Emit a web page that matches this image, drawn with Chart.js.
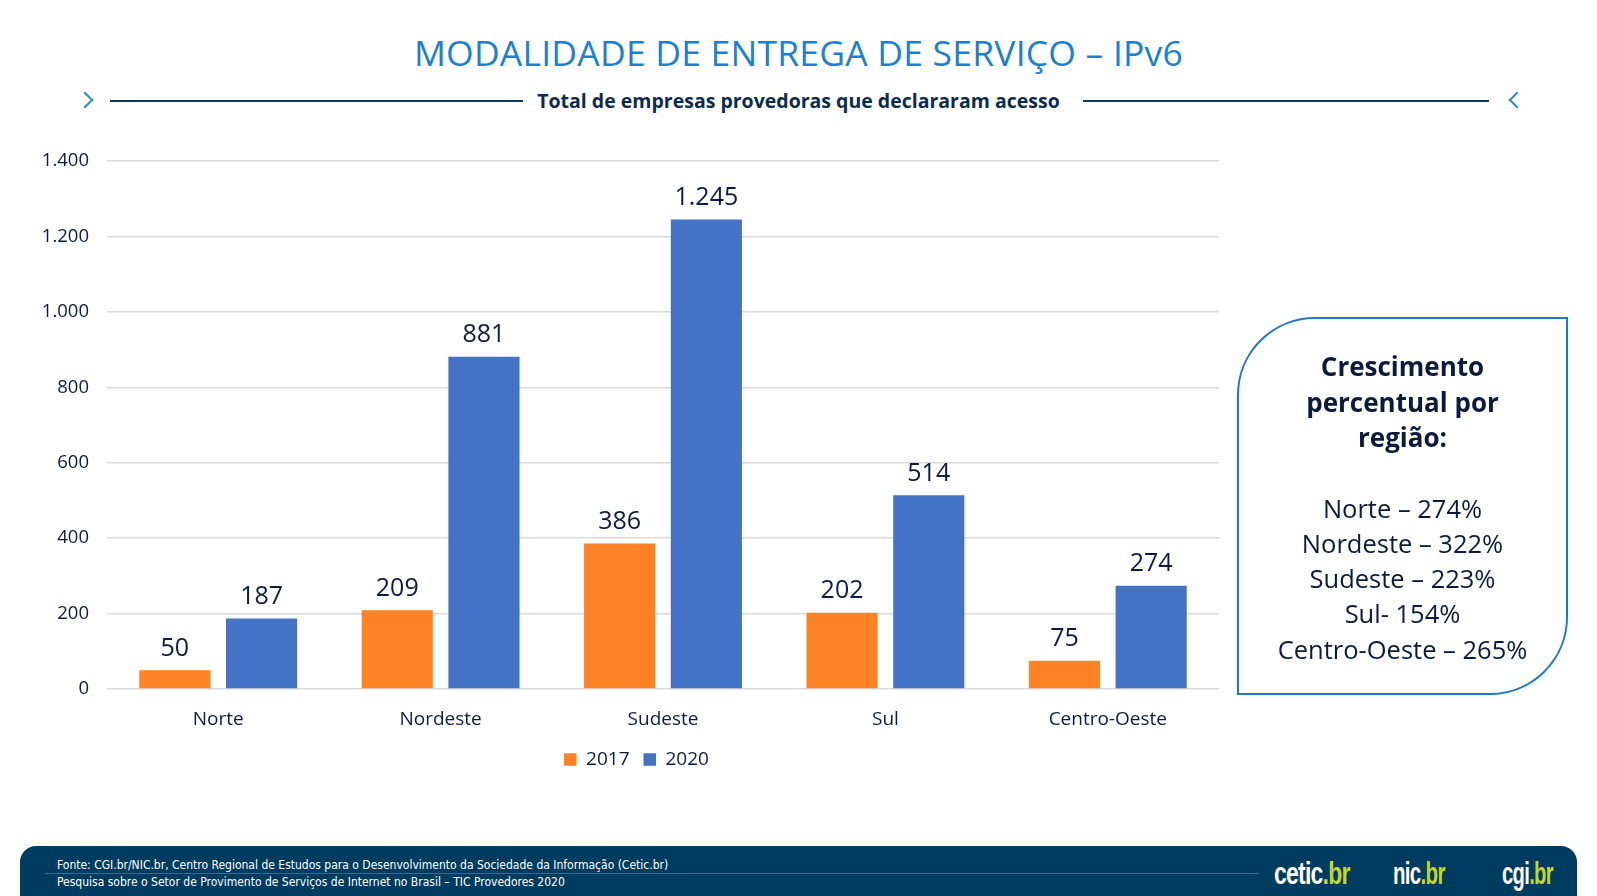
<!DOCTYPE html>
<html>
<head>
<meta charset="utf-8">
<script src="https://cdn.jsdelivr.net/npm/chart.js@4"></script>
<style>
  body { margin: 0; width: 1597px; height: 896px; background: #fff; position: relative; overflow: hidden; font-family: "Open Sans", "Noto Sans", sans-serif; }
  #title { position: absolute; left: 0; width: 1597px; top: 28px; text-align: center; font-size: 35.5px; letter-spacing: 0.2px; color: #1b7fd3; }
  #sub { position: absolute; left: 0; width: 1597px; top: 87px; text-align: center; font-size: 19.5px; font-weight: bold; color: #0c2c4e; }
  .hl { position: absolute; top: 100px; height: 1.5px; background: #0c3a5e; }
  .chev { position: absolute; top: 94px; width: 10px; height: 10px; border-top: 2.5px solid #2b8fc4; border-right: 2.5px solid #2b8fc4; }
  #wrap { position: absolute; left: 20px; top: 132px; width: 1220px; height: 647px; }
  #box { position: absolute; left: 1237px; top: 317px; width: 327px; height: 374px; border: 2px solid #1f78c6; border-radius: 78px 0 78px 0; color: #0c1a3c; text-align: center; }
  #box .h { margin-top: 30px; font-weight: bold; font-size: 26px; line-height: 35.5px; }
  #box .l { margin-top: 35px; font-size: 25.5px; line-height: 35.3px; }
  #foot { position: absolute; left: 20px; top: 846px; width: 1557px; height: 60px; background: #003c60; border-radius: 16px 16px 0 0; }
  .ft { position: absolute; left: 37px; font-size: 12px; color: #fff; font-family: "Liberation Sans Narrow", "DejaVu Sans Condensed", sans-serif; }
  #sep { position: absolute; left: 25px; top: 27px; width: 1214px; height: 1px; background: #3d6a8a; }
  .logo { position: absolute; top: 10px; font-family: "Liberation Sans Narrow", sans-serif; font-weight: bold; font-size: 31px; color: #fff; letter-spacing: -1px; transform-origin: left center; }
  .logo span { color: #c4d62a; }
</style>
</head>
<body>
<div id="title">MODALIDADE DE ENTREGA DE SERVIÇO – IPv6</div>
<div class="chev" style="left:79px;transform:rotate(45deg)"></div>
<div class="hl" style="left:110px;width:413px"></div>
<div id="sub">Total de empresas provedoras que declararam acesso</div>
<div class="hl" style="left:1083px;width:406px"></div>
<div class="chev" style="left:1511px;transform:rotate(-135deg)"></div>

<div id="wrap"><canvas id="chartIPv6"></canvas></div>

<div id="box">
  <div class="h">Crescimento<br>percentual por<br>região:</div>
  <div class="l">Norte – 274%<br>Nordeste – 322%<br>Sudeste – 223%<br>Sul- 154%<br>Centro-Oeste – 265%</div>
</div>

<div id="foot">
  <div class="ft" style="top:12px">Fonte: CGI.br/NIC.br, Centro Regional de Estudos para o Desenvolvimento da Sociedade da Informação (Cetic.br)</div>
  <div id="sep"></div>
  <div class="ft" style="top:29px">Pesquisa sobre o Setor de Provimento de Serviços de Internet no Brasil – TIC Provedores 2020</div>
  <div class="logo" style="left:1254px;transform:scaleX(0.74)">cetic<span>.br</span></div>
  <div class="logo" style="left:1373px;transform:scaleX(0.66)">nic<span>.br</span></div>
  <div class="logo" style="left:1482px;transform:scaleX(0.65)">cgi<span>.br</span></div>
</div>

<script>
const regioes = ['Norte', 'Nordeste', 'Sudeste', 'Sul', 'Centro-Oeste'];
const valores2017 = [50, 209, 386, 202, 75];
const valores2020 = [187, 881, 1245, 514, 274];

const textColor = '#0d1b3e';

function fmt(v) {
  return String(v).replace(/\B(?=(\d{3})+(?!\d))/g, '.');
}

// rotulos de valor acima das barras
const rotulos = {
  id: 'rotulos',
  afterDatasetsDraw(chart) {
    const ctx = chart.ctx;
    ctx.save();
    ctx.font = '25px "Open Sans", sans-serif';
    ctx.fillStyle = textColor;
    ctx.textAlign = 'center';
    ctx.textBaseline = 'bottom';
    chart.data.datasets.forEach((ds, i) => {
      chart.getDatasetMeta(i).data.forEach((bar, j) => {
        ctx.fillText(fmt(ds.data[j]), bar.x, bar.y - 9);
      });
    });
    ctx.restore();
  }
};

// legenda um pouco deslocada para a direita, como no original
const moveLegenda = {
  id: 'moveLegenda',
  afterLayout(chart) {
    chart.legend.left += 17;
    chart.legend.right += 17;
  }
};

const ctx = document.getElementById('chartIPv6');

new Chart(ctx, {
  type: 'bar',
  data: {
    labels: regioes,
    datasets: [{
      label: '2017',
      data: valores2017,
      backgroundColor: '#ff8225'
    }, {
      label: '2020',
      data: valores2020,
      backgroundColor: '#4472c4'
    }]
  },
  options: {
    responsive: true,
    maintainAspectRatio: false,
    animation: false,
    categoryPercentage: 0.78,
    barPercentage: 0.82,
    layout: { padding: { top: 11, right: 21, left: 0, bottom: 0 } },
    plugins: {
      legend: {
        position: 'bottom',
        labels: {
          color: textColor,
          font: { size: 19, family: '"Open Sans", sans-serif' },
          boxWidth: 12.5,
          boxHeight: 12.5,
          padding: 14
        }
      },
      tooltip: { enabled: false }
    },
    scales: {
      x: {
        grid: { display: false },
        border: { display: false },
        ticks: { color: textColor, font: { size: 19, family: '"Open Sans", sans-serif' }, padding: 11 },
        afterFit(scale) { scale.height = 47; }
      },
      y: {
        min: 0,
        max: 1400,
        ticks: {
          stepSize: 200,
          color: textColor,
          padding: 18,
          font: { size: 18.5, family: '"Open Sans", sans-serif' },
          callback: v => fmt(v)
        },
        grid: { color: '#d9d9d9', lineWidth: 1.5, drawTicks: false },
        border: { display: false },
        afterFit(scale) { scale.width = 87; }
      }
    }
  },
  plugins: [rotulos, moveLegenda]
});
</script>
</body>
</html>
